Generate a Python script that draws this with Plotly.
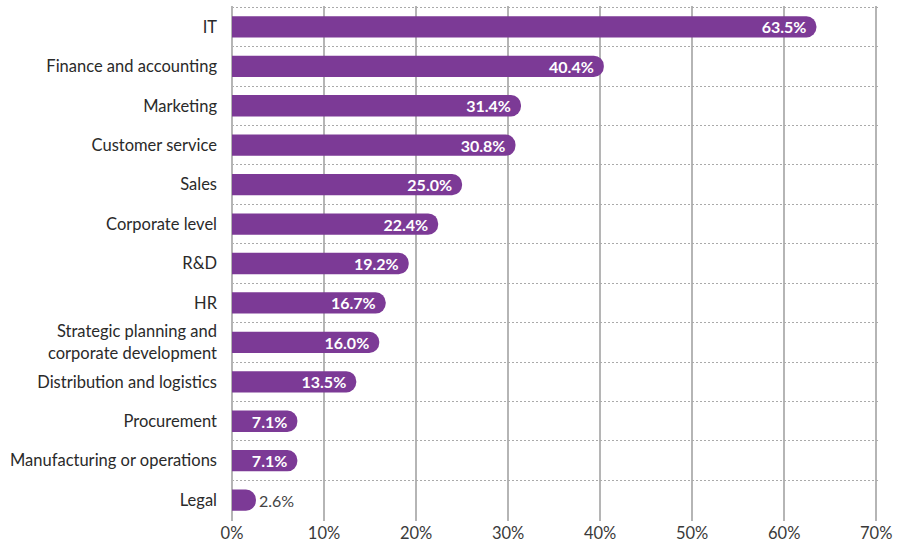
import plotly.graph_objects as go

categories = [
    "IT", "Finance and accounting", "Marketing", "Customer service", "Sales",
    "Corporate level", "R&D", "HR", "Strategic planning and<br>corporate development",
    "Distribution and logistics", "Procurement", "Manufacturing or operations", "Legal",
]
values = [63.5, 40.4, 31.4, 30.8, 25.0, 22.4, 19.2, 16.7, 16.0, 13.5, 7.1, 7.1, 2.6]
tick_vals = [0, 10, 20, 30, 40, 50, 60, 70]
tick_text = ["0%", "10%", "20%", "30%", "40%", "50%", "60%", "70%"]

BAR = "#7C3A96"
FONT = "Lato"

labels = [f"{v:.1f}%" for v in values]

fig = go.Figure(go.Bar(
    x=values, y=categories, orientation="h",
    marker=dict(color=BAR, cornerradius=11, line=dict(width=0)),
    text=labels, textposition="auto", insidetextanchor="end",
    insidetextfont=dict(color="white", size=16, family=FONT, weight="bold"),
    outsidetextfont=dict(color="#444444", size=16, family=FONT),
    textangle=0, cliponaxis=False,
))

fig.update_layout(
    width=898, height=548,
    margin=dict(l=232, r=19, t=6, b=27),
    plot_bgcolor="white", paper_bgcolor="white",
    bargap=0.46, showlegend=False,
    font=dict(family=FONT, size=16.5, color="#2a2a2a"),
    uniformtext=dict(minsize=16, mode="show"),
)
fig.update_xaxes(
    range=[0, 70.3], tickvals=tick_vals, ticktext=tick_text,
    showgrid=True, gridcolor="#b5b5b5", gridwidth=1.5,
    zeroline=True, zerolinecolor="#b5b5b5", zerolinewidth=1.5,
    showline=False, ticks="", tickfont=dict(size=16.5, color="#3a3a3a"),
)
fig.update_yaxes(
    range=[12.53, -0.53], type="category", tickson="boundaries",
    showgrid=True, gridcolor="#aaaaaa", griddash="2px,2px", gridwidth=1,
    showline=False, ticks="", ticklabelstandoff=14,
    tickfont=dict(size=16.5, color="#2a2a2a"),
)

fig.write_html("out.html")
